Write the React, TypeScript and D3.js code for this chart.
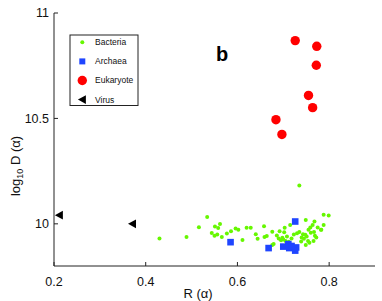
import React from "react";
import * as d3 from "d3";

const bacteriaR = [0.430, 0.489, 0.534, 0.516, 0.551, 0.562, 0.558, 0.544, 0.550, 0.556, 0.566, 0.577, 0.586, 0.596, 0.602,
  0.620, 0.629, 0.611, 0.640, 0.644, 0.658, 0.659, 0.664, 0.676, 0.679, 0.692, 0.703, 0.715, 0.735,
  0.690, 0.695, 0.700, 0.705, 0.698, 0.708, 0.723, 0.735, 0.743, 0.748, 0.740, 0.745, 0.751, 0.754, 0.739, 0.749,
  0.749, 0.768, 0.788, 0.764, 0.759, 0.755, 0.775, 0.783, 0.767, 0.769, 0.772, 0.766, 0.757, 0.799, 0.788, 0.782,
  0.712, 0.718, 0.730, 0.760, 0.676, 0.686, 0.702];
const bacteriaD = [9.930, 9.938, 10.033, 9.984, 9.987, 9.999, 9.980, 9.956, 9.943, 9.949, 9.938, 9.954, 9.965, 9.978, 9.972,
  9.981, 9.981, 9.923, 9.951, 9.929, 9.989, 9.938, 9.942, 9.963, 9.904, 9.965, 9.981, 9.994, 10.182,
  9.930, 9.922, 9.926, 9.918, 9.934, 9.940, 9.949, 9.961, 9.951, 9.948, 9.935, 9.929, 9.940, 9.919, 9.916, 9.900,
  10.018, 10.011, 10.043, 9.995, 9.983, 9.972, 9.983, 9.972, 9.961, 9.944, 9.935, 9.919, 9.910, 10.040, 9.995, 9.972,
  9.915, 9.930, 9.955, 9.958, 9.900, 9.945, 9.960];

const archaeaR = [0.726, 0.585, 0.668, 0.700, 0.711, 0.713, 0.728, 0.726, 0.718];
const archaeaD = [10.011, 9.913, 9.885, 9.892, 9.904, 9.885, 9.888, 9.873, 9.895];

const eukR = [0.726, 0.773, 0.772, 0.755, 0.764, 0.684, 0.697];
const eukD = [10.869, 10.842, 10.752, 10.609, 10.551, 10.494, 10.424];

const virusR = [0.2115, 0.371];
const virusD = [10.041, 10.0];

const xTicks = [0.2, 0.4, 0.6, 0.8];
const yTicks = [10, 10.5, 11];
const legendLabels = ["Bacteria", "Archaea", "Eukaryote", "Virus"];

const GREEN = "#66f700";
const BLUE = "#1f45ff";
const RED = "#ff0000";
const FONT = "'Liberation Sans', Arial, Helvetica, sans-serif";

export default function App() {
  const x = d3.scaleLinear().domain([0.2, 0.9]).range([54, 375]);
  const y = d3.scaleLinear().domain([9.8, 11]).range([266, 13]);
  const tri = (cx: number, cy: number, s: number) =>
    `M${cx - s * 0.55},${cy} L${cx + s * 0.45},${cy - s * 0.55} L${cx + s * 0.45},${cy + s * 0.55} Z`;

  const legendMarker = (i: number, cx: number, cy: number) => {
    if (i === 0) return <circle cx={cx} cy={cy} r={2} fill={GREEN} />;
    if (i === 1) return <rect x={cx - 3} y={cy - 3} width={6} height={6} fill={BLUE} />;
    if (i === 2) return <circle cx={cx} cy={cy} r={4.7} fill={RED} />;
    return <path d={tri(cx, cy, 8)} fill="#000" />;
  };

  return (
    <svg width={382} height={301} style={{ position: "absolute", left: 0, top: 0, background: "#fff" }} fontFamily={FONT}>
      {bacteriaR.map((r, i) => (
        <circle key={"b" + i} cx={x(r)} cy={y(bacteriaD[i])} r={2} fill={GREEN} />
      ))}
      {archaeaR.map((r, i) => (
        <rect key={"a" + i} x={x(r) - 3.3} y={y(archaeaD[i]) - 3.3} width={6.6} height={6.6} fill={BLUE} />
      ))}
      {eukR.map((r, i) => (
        <circle key={"e" + i} cx={x(r)} cy={y(eukD[i])} r={4.7} fill={RED} />
      ))}
      {virusR.map((r, i) => (
        <path key={"v" + i} d={tri(x(r), y(virusD[i]), 8)} fill="#000" />
      ))}

      <line x1={54} y1={13} x2={54} y2={266} stroke="#222" strokeWidth={1} />
      <line x1={54} y1={266} x2={375} y2={266} stroke="#222" strokeWidth={1} />
      {yTicks.map((t) => (
        <g key={"yt" + t}>
          <line x1={54} x2={58} y1={y(t)} y2={y(t)} stroke="#222" />
          <text x={49} y={y(t)} dy="0.35em" textAnchor="end" fontSize={12.5} fill="#111">
            {t}
          </text>
        </g>
      ))}
      {xTicks.map((t) => (
        <g key={"xt" + t}>
          <line x1={x(t)} x2={x(t)} y1={266} y2={262} stroke="#222" />
          <text x={x(t)} y={286} textAnchor="middle" fontSize={12.5} fill="#111">
            {t}
          </text>
        </g>
      ))}
      <text x={198} y={298} textAnchor="middle" fontSize={13} fill="#111">
        R (α)
      </text>
      <text transform="translate(20,166) rotate(-90)" textAnchor="middle" fontSize={13} fill="#111">
        log<tspan fontSize={9} dy={3}>10</tspan>
        <tspan dy={-3}> D (α)</tspan>
      </text>

      <text x={222} y={61} textAnchor="middle" fontSize={20} fontWeight="bold" fill="#000">
        b
      </text>

      <rect x={70} y={35} width={68} height={70.5} fill="#fff" stroke="#222" strokeWidth={1} />
      {legendLabels.map((l, i) => {
        const cy = 42.3 + i * 19.1;
        return (
          <g key={l}>
            {legendMarker(i, 82.3, cy)}
            <text x={95} y={cy} dy="0.35em" fontSize={8.5} fill="#111">
              {l}
            </text>
          </g>
        );
      })}
    </svg>
  );
}
